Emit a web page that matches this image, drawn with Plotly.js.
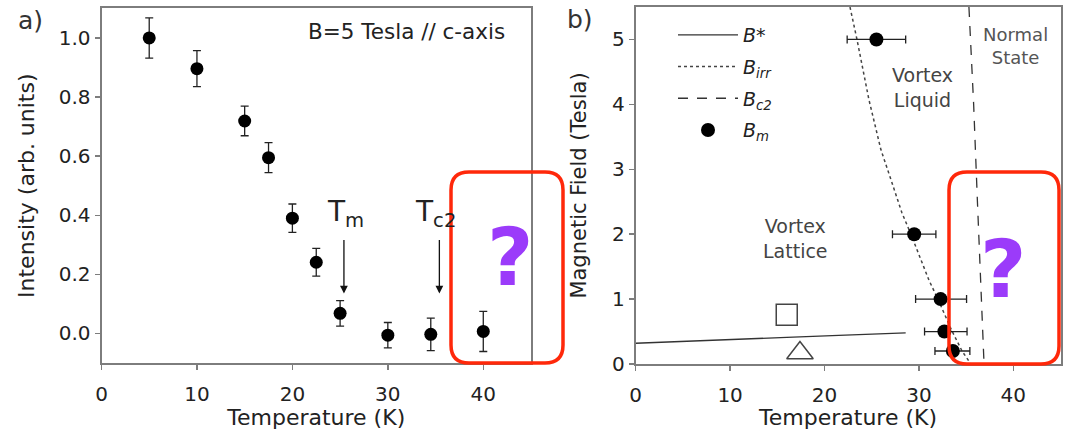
<!DOCTYPE html>
<html>
<head>
<meta charset="utf-8">
<script src="https://cdn.plot.ly/plotly-3.0.1.min.js"></script>
<style>
  html, body { margin: 0; padding: 0; background: #fff; }
  #chart { width: 1065px; height: 430px; }
</style>
</head>
<body>
<div id="chart"></div>
<script>
// ---------- Panel a) : intensity vs temperature ----------
const tempA = [5, 10, 15, 17.5, 20, 22.5, 25, 30, 34.5, 40];
const intensity = [1.0, 0.896, 0.719, 0.595, 0.39, 0.241, 0.068, -0.006, -0.003, 0.007];
const intensityErr = [0.068, 0.061, 0.05, 0.051, 0.048, 0.047, 0.043, 0.043, 0.055, 0.068];
const yTicksA = [0, 0.2, 0.4, 0.6, 0.8, 1.0];
const xTicks = [0, 10, 20, 30, 40];

// arrows marking Tm and Tc2
const arrowT = [25.4, 35.4];
const arrowLabels = ['T<sub>m</sub>', 'T<sub>c2</sub>'];

// ---------- Panel b) : phase diagram ----------
const tempBm = [25.5, 29.5, 32.3, 32.7, 33.6];
const fieldBm = [5, 2, 1, 0.5, 0.2];
const tempBmErrPlus = [3.1, 2.3, 2.75, 2.4, 1.8];
const tempBmErrMinus = [3.1, 2.3, 2.65, 2.1, 1.9];

const tempBstar = [0, 10, 16, 21.5, 28.6];
const fieldBstar = [0.32, 0.37, 0.41, 0.44, 0.48];

const tempBirr = [22.7, 23.44, 24.71, 25.98, 27.04, 28.2, 29.15, 31.07, 32.01, 33.5, 34.57, 35.5];
const fieldBirr = [5.5, 5.0, 4.07, 3.3, 2.84, 2.33, 2.0, 1.29, 1.0, 0.51, 0.2, 0.0];

const tempBc2 = [35.3, 35.8, 36.2, 36.6, 36.9];
const fieldBc2 = [5.5, 4.0, 2.5, 1.0, 0.0];

const tempSquare = [16.0];
const fieldSquare = [0.76];
const tempTriangle = [17.4];
const fieldTriangle = [0.17];
const yTicksB = [0, 1, 2, 3, 4, 5];

const legendNames = ['<i>B*</i>', '<i>B<sub>irr</sub></i>', '<i>B<sub>c2</sub></i>', '<i>B<sub>m</sub></i>'];

// ---------- geometry helpers (figure pixels -> paper) ----------
const M = {l: 60, r: 4, t: 7, b: 66};
const plotW = 1065 - M.l - M.r, plotH = 430 - M.t - M.b;
const px = x => (x - M.l) / plotW;
const py = y => (430 - M.b - y) / plotH;

const FONT = 'DejaVu Sans, Verdana, sans-serif';
const INK = '#222';
const AXC = '#7d7d7d';

function roundedBox(x0, y0, x1, y1, r) {
  const X = v => px(v), Y = v => py(v);
  return 'M' + X(x0 + r) + ',' + Y(y0) +
    ' L' + X(x1 - r) + ',' + Y(y0) +
    ' Q' + X(x1) + ',' + Y(y0) + ' ' + X(x1) + ',' + Y(y0 + r) +
    ' L' + X(x1) + ',' + Y(y1 - r) +
    ' Q' + X(x1) + ',' + Y(y1) + ' ' + X(x1 - r) + ',' + Y(y1) +
    ' L' + X(x0 + r) + ',' + Y(y1) +
    ' Q' + X(x0) + ',' + Y(y1) + ' ' + X(x0) + ',' + Y(y1 - r) +
    ' L' + X(x0) + ',' + Y(y0 + r) +
    ' Q' + X(x0) + ',' + Y(y0) + ' ' + X(x0 + r) + ',' + Y(y0) + ' Z';
}

const traces = [
  {
    x: tempA, y: intensity, xaxis: 'x', yaxis: 'y', type: 'scatter', mode: 'markers',
    marker: {color: '#000', size: 13},
    error_y: {type: 'data', array: intensityErr, visible: true, color: '#222', thickness: 1.3, width: 4},
    showlegend: false, hoverinfo: 'skip'
  },
  {
    x: tempBstar, y: fieldBstar, xaxis: 'x2', yaxis: 'y2', type: 'scatter', mode: 'lines',
    line: {color: '#333', width: 1.3}, name: legendNames[0], legendgroup: 'g1'
  },
  {
    x: tempBirr, y: fieldBirr, xaxis: 'x2', yaxis: 'y2', type: 'scatter', mode: 'lines',
    line: {color: '#444', width: 1.5, dash: 'dot'}, name: legendNames[1], legendgroup: 'g2'
  },
  {
    x: tempBc2, y: fieldBc2, xaxis: 'x2', yaxis: 'y2', type: 'scatter', mode: 'lines',
    line: {color: '#333', width: 1.3, dash: '10px,9px'}, name: legendNames[2], legendgroup: 'g3'
  },
  {
    x: tempBm, y: fieldBm, xaxis: 'x2', yaxis: 'y2', type: 'scatter', mode: 'markers',
    marker: {color: '#000', size: 14},
    error_x: {type: 'data', array: tempBmErrPlus, arrayminus: tempBmErrMinus, visible: true,
              color: '#222', thickness: 1.3, width: 4},
    name: legendNames[3], legendgroup: 'g4'
  },
  {
    x: tempSquare, y: fieldSquare, xaxis: 'x2', yaxis: 'y2', type: 'scatter', mode: 'markers',
    marker: {symbol: 'square-open', size: 21, color: '#444', line: {width: 1.5}},
    showlegend: false
  },
  {
    x: tempTriangle, y: fieldTriangle, xaxis: 'x2', yaxis: 'y2', type: 'scatter', mode: 'markers',
    marker: {symbol: 'triangle-up-open', size: 23, color: '#444', line: {width: 1.5}},
    showlegend: false
  }
];

function axisBase() {
  return {
    showline: true, mirror: true, linecolor: AXC, linewidth: 2,
    ticks: 'outside', ticklen: 5, tickwidth: 1.5, tickcolor: AXC,
    showgrid: false, zeroline: false,
    tickfont: {family: FONT, size: 20, color: INK},
    fixedrange: true
  };
}

const layout = {
  width: 1065, height: 430,
  margin: M,
  paper_bgcolor: '#fff', plot_bgcolor: '#fff',
  font: {family: FONT, color: INK},
  showlegend: true,
  legend: {
    x: px(673), y: py(16), xanchor: 'left', yanchor: 'top',
    bgcolor: 'rgba(0,0,0,0)', borderwidth: 0,
    font: {family: FONT, size: 19, color: INK},
    tracegroupgap: 4, itemwidth: 60
  },
  xaxis: Object.assign(axisBase(), {
    domain: [px(101.5), px(531)], range: [0, 45], anchor: 'y',
    tickvals: xTicks, ticklabelstandoff: 7,
    title: {text: 'Temperature (K)', font: {family: FONT, size: 22, color: INK}, standoff: 2}
  }),
  yaxis: Object.assign(axisBase(), {
    domain: [py(363), py(8.4)], range: [-0.1, 1.1], anchor: 'x',
    tickvals: yTicksA, tickformat: '.1f',
    title: {text: 'Intensity (arb. units)', font: {family: FONT, size: 22, color: INK}, standoff: 18}
  }),
  xaxis2: Object.assign(axisBase(), {
    domain: [px(635.7), px(1060.5)], range: [0, 45], anchor: 'y2',
    tickvals: xTicks, ticklabelstandoff: 7,
    title: {text: 'Temperature (K)', font: {family: FONT, size: 22, color: INK}, standoff: 2}
  }),
  yaxis2: Object.assign(axisBase(), {
    domain: [py(364), py(7)], range: [0, 5.5], anchor: 'x2',
    tickvals: yTicksB,
    title: {text: 'Magnetic Field (Tesla)', font: {family: FONT, size: 21, color: INK}, standoff: 20}
  }),
  annotations: [
    {xref: 'paper', yref: 'paper', x: px(30), y: py(21), text: 'a)', showarrow: false,
     font: {family: FONT, size: 25, color: '#333'}, xanchor: 'center', yanchor: 'middle'},
    {xref: 'paper', yref: 'paper', x: px(580), y: py(20), text: 'b)', showarrow: false,
     font: {family: FONT, size: 25, color: '#333'}, xanchor: 'center', yanchor: 'middle'},
    {xref: 'x', yref: 'y', x: 32.0, y: 1.022, text: 'B=5 Tesla // c-axis', showarrow: false,
     font: {family: FONT, size: 21.5, color: INK}, xanchor: 'center', yanchor: 'middle'},
    // arrows
    {xref: 'x', yref: 'y', axref: 'x', ayref: 'y', x: arrowT[0], y: 0.135, ax: arrowT[0], ay: 0.321,
     text: '', showarrow: true, arrowhead: 2, arrowsize: 1.2, arrowwidth: 1.3, arrowcolor: '#111'},
    {xref: 'x', yref: 'y', axref: 'x', ayref: 'y', x: arrowT[1], y: 0.135, ax: arrowT[1], ay: 0.321,
     text: '', showarrow: true, arrowhead: 2, arrowsize: 1.2, arrowwidth: 1.3, arrowcolor: '#111'},
    {xref: 'x', yref: 'y', x: 25.6, y: 0.405, text: arrowLabels[0], showarrow: false,
     font: {family: FONT, size: 28, color: '#222'}, xanchor: 'center', yanchor: 'middle'},
    {xref: 'x', yref: 'y', x: 35.0, y: 0.405, text: arrowLabels[1], showarrow: false,
     font: {family: FONT, size: 28, color: '#222'}, xanchor: 'center', yanchor: 'middle'},
    // region labels
    {xref: 'x2', yref: 'y2', x: 30.4, y: 4.26, text: 'Vortex<br>Liquid', showarrow: false,
     font: {family: FONT, size: 19, color: '#444'}, xanchor: 'center', yanchor: 'middle'},
    {xref: 'x2', yref: 'y2', x: 40.2, y: 4.9, text: 'Normal<br>State', showarrow: false,
     font: {family: FONT, size: 18, color: '#555'}, xanchor: 'center', yanchor: 'middle'},
    {xref: 'x2', yref: 'y2', x: 16.9, y: 1.93, text: 'Vortex<br>Lattice', showarrow: false,
     font: {family: FONT, size: 19, color: '#444'}, xanchor: 'center', yanchor: 'middle'},
    // question marks
    {xref: 'paper', yref: 'paper', x: px(510), y: py(257), text: '<b>?</b>', showarrow: false,
     font: {family: FONT, size: 80, color: '#9b3bfa'}, xanchor: 'center', yanchor: 'middle'},
    {xref: 'paper', yref: 'paper', x: px(1003), y: py(269), text: '<b>?</b>', showarrow: false,
     font: {family: FONT, size: 80, color: '#9b3bfa'}, xanchor: 'center', yanchor: 'middle'}
  ],
  shapes: [
    {type: 'path', xref: 'paper', yref: 'paper', path: roundedBox(451, 172, 563, 363, 18),
     line: {color: 'rgb(255,40,10)', width: 3.5}, fillcolor: 'rgba(0,0,0,0)', layer: 'above'},
    {type: 'path', xref: 'paper', yref: 'paper', path: roundedBox(949, 172, 1059, 364, 18),
     line: {color: 'rgb(255,40,10)', width: 3.5}, fillcolor: 'rgba(0,0,0,0)', layer: 'above'}
  ]
};

Plotly.newPlot('chart', traces, layout, {displayModeBar: false, staticPlot: true});
</script>
</body>
</html>
